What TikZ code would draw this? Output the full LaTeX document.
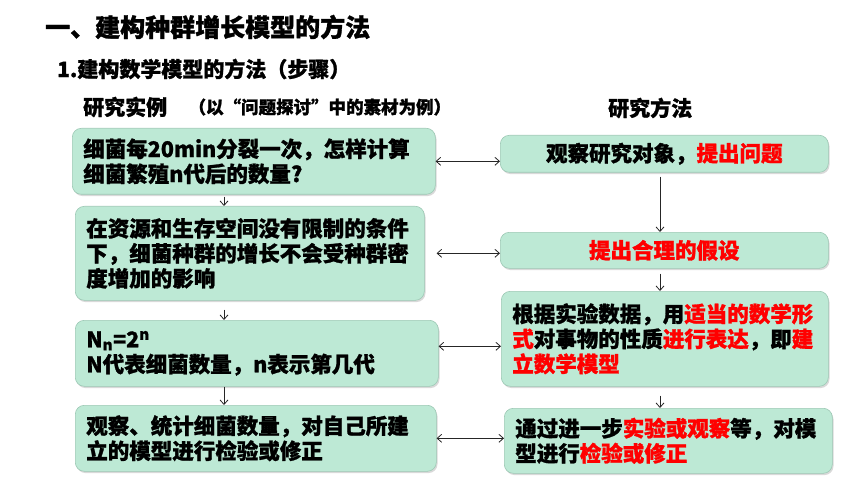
\documentclass[tikz,border=0pt]{standalone}
\usepackage{fontspec}
\setmainfont{Noto Sans CJK SC Bold}[FakeBold=1.2]
\usetikzlibrary{positioning,arrows.meta,shadows}
\definecolor{boxfill}{HTML}{BDE9D5}
\definecolor{boxline}{HTML}{9CC8B4}
\definecolor{keyred}{HTML}{FF0000}
\newcommand{\keyword}[1]{\textcolor{keyred}{#1}}

\begin{document}
\begin{tikzpicture}[x=1pt,y=-1pt,
  box/.style={draw=boxline,line width=0.6pt,fill=boxfill,rounded corners=9pt,
    drop shadow={shadow xshift=1.2pt,shadow yshift=-1.8pt,opacity=0.3},
    anchor=north west,inner xsep=11pt,inner ysep=0pt,align=left,
    font=\bfseries\fontsize{21.5}{25}\selectfont},
  head/.style={anchor=west,inner sep=0pt},
  link/.style={draw=black!85,line width=0.8pt,-{Straight Barb[length=4.5pt,width=8pt]}},
  both/.style={link,{Straight Barb[length=4.5pt,width=8pt]}-{Straight Barb[length=4.5pt,width=8pt]}}]
  \useasboundingbox (0,0) rectangle (860,484);
  % headings
  \node[head,font=\bfseries\fontsize{25}{30}\selectfont] (title) at (45,27) {一、建构种群增长模型的方法};
  \node[head,font=\bfseries\fontsize{21}{25}\selectfont] (sub) at (57,69) {1.建构数学模型的方法（步骤）};
  \node[head,font=\bfseries\fontsize{21}{25}\selectfont] (hcase) at (83,107) {研究实例};
  \node[head,font=\bfseries\fontsize{17.5}{21}\selectfont,right=21pt of hcase] (hnote) {（以“问题探讨”中的素材为例）};
  \node[head,font=\bfseries\fontsize{21}{25}\selectfont] (hmeth) at (608,108) {研究方法};
  % left column
  \node[box,text width=341pt,minimum height=66pt] (c1) at (72,128)
    {细菌每20min分裂一次，怎样计算\\细菌繁殖n代后的数量?};
  \node[box,text width=327pt,minimum height=94pt] (c2) at (75,206)
    {在资源和生存空间没有限制的条件\\下，细菌种群的增长不会受种群密\\度增加的影响};
  \node[box,text width=341pt,minimum height=66pt] (c3) at (75,320)
    {N\textsubscript{n}=2\textsuperscript{n}\\N代表细菌数量，n表示第几代};
  \node[box,text width=339pt,minimum height=66pt] (c4) at (75,405)
    {观察、统计细菌数量，对自己所建\\立的模型进行检验或修正};
  % right column
  \node[box,text width=306pt,minimum height=37pt,align=center] (m1) at (500,135)
    {观察研究对象，\keyword{提出问题}};
  \node[box,text width=306pt,minimum height=36pt,align=center] (m2) at (500,232)
    {\keyword{提出合理的假设}};
  \node[box,text width=305pt,minimum height=95pt] (m3) at (501,291)
    {根据实验数据，用\keyword{适当的数学形}\\\keyword{式}对事物的性质\keyword{进行表达}，即\keyword{建}\\\keyword{立数学模型}};
  \node[box,text width=306pt,minimum height=65pt] (m4) at (504,408)
    {通过进一步\keyword{实验或观察}等，对模\\型进行\keyword{检验或修正}};
  % connectors
  \coordinate (lx) at (224,0);
  \coordinate (rx) at (660,0);
  \draw[link,shorten <=2pt] (c1.south -| lx) -- (c2.north -| lx);
  \draw[link,shorten <=9pt] (c2.south -| lx) -- (c3.north -| lx);
  \draw[link] (c3.south -| lx) -- (c4.north -| lx);
  \draw[link,shorten <=4pt] (m1.south -| rx) -- (m2.north -| rx);
  \draw[link,shorten <=5pt] (m2.south -| rx) -- (m3.north -| rx);
  \draw[link,shorten <=9pt] (m3.south -| rx) -- (m4.north -| rx);
  \draw[both] (c1.east) -- (c1.east -| m1.west);
  \draw[both] ([xshift=12pt]c2.east) -- (c2.east -| m2.west);
  \draw[both] ([yshift=7pt]c3.east) -- ([yshift=7pt]c3.east -| m3.west);
  \draw[both] (c4.east) -- (c4.east -| m4.west);
\end{tikzpicture}
\end{document}
